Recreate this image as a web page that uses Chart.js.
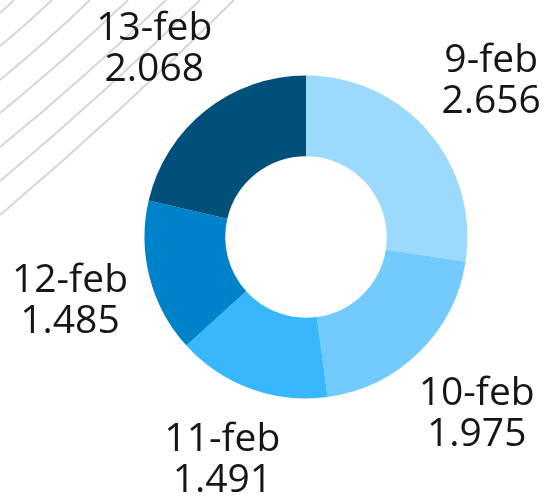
<!DOCTYPE html>
<html>
<head>
<meta charset="utf-8">
<script src="https://cdn.jsdelivr.net/npm/chart.js@4"></script>
<style>
  html, body { margin: 0; padding: 0; background: #ffffff; }
  #wrap { width: 547px; height: 499px; position: relative; }
</style>
</head>
<body>
<div id="wrap"><canvas id="donut"></canvas></div>
<script>
// Chart data
const days = ['9-feb', '10-feb', '11-feb', '12-feb', '13-feb'];
const amounts = [2.656, 1.975, 1.491, 1.485, 2.068];
const valueLabels = ['2.656', '1.975', '1.491', '1.485', '2.068'];
const sliceColors = ['#9cdafd', '#73cbfd', '#38b6fe', '#0082cb', '#00507a'];

// Diagonal background lines in the top-left corner
const hatchPlugin = {
    id: 'hatch',
    beforeDraw(chart) {
        const ctx = chart.ctx;
        ctx.save();
        ctx.strokeStyle = '#d5d5dc';
        ctx.lineWidth = 2;
        const ends = [[13, 14], [46, 52], [80, 90], [113, 128], [147, 166], [181, 200], [215, 234]];
        ends.forEach(([y0, x1]) => {
            ctx.beginPath();
            ctx.moveTo(0, y0);
            ctx.quadraticCurveTo(x1 * 0.52, y0 * 0.52, x1, 0);
            ctx.stroke();
        });
        ctx.restore();
    }
};

// Two-line labels outside each slice
const outerLabels = {
    id: 'outerLabels',
    afterDraw(chart) {
        const ctx = chart.ctx;
        const arcs = chart.getDatasetMeta(0).data;
        ctx.save();
        ctx.font = '39px "Open Sans"';
        ctx.fillStyle = '#161616';
        ctx.textAlign = 'center';
        ctx.textBaseline = 'middle';
        arcs.forEach((arc, i) => {
            const mid = (arc.startAngle + arc.endAngle) / 2;
            const dist = arc.outerRadius * 1.51;
            let x = arc.x + Math.cos(mid) * dist;
            let y = arc.y + Math.sin(mid) * dist;
            y = Math.min(y, chart.height - 42);
            ctx.fillText(days[i], x, y - 17);
            ctx.fillText(valueLabels[i], x, y + 24);
        });
        ctx.restore();
    }
};

const ctx = document.getElementById('donut').getContext('2d');
const chart = new Chart(ctx, {
    type: 'doughnut',
    data: {
        labels: days,
        datasets: [{
            data: amounts,
            backgroundColor: sliceColors,
            borderWidth: 0
        }]
    },
    options: {
        responsive: true,
        maintainAspectRatio: false,
        animation: false,
        cutout: '50%',
        layout: {
            padding: { left: 144.5, right: 79.5, top: 75.5, bottom: 100.5 }
        },
        plugins: {
            legend: { display: false },
            tooltip: { enabled: false }
        }
    },
    plugins: [hatchPlugin, outerLabels]
});
</script>
</body>
</html>
